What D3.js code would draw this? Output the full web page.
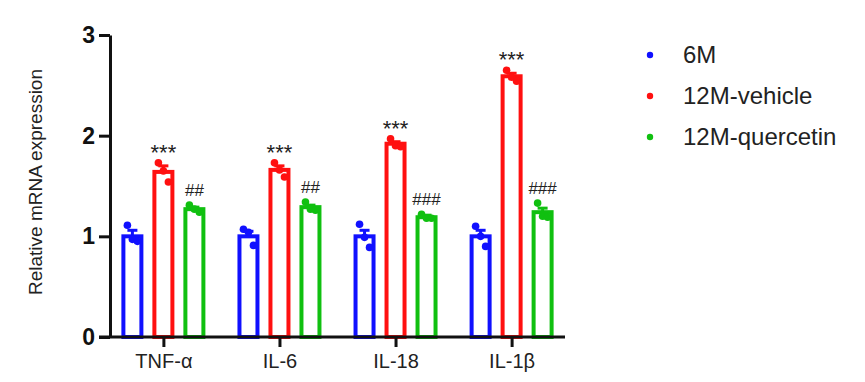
<!DOCTYPE html>
<html lang="en">
<head>
<meta charset="utf-8">
<title>Relative mRNA expression</title>
<script src="https://cdn.jsdelivr.net/npm/d3@7"></script>
<style>
body { margin: 0; background: #fff; }
svg { display: block; font-family: Arial, "Liberation Sans", sans-serif; }
.y-axis text { font-size: 23px; font-weight: bold; fill: #111; }
.x-axis text { font-size: 20px; fill: #222; }
.axis path, .axis line { stroke: #111; stroke-width: 3px; }
.mark { fill: #222; text-anchor: middle; }
.legend text { font-size: 24px; fill: #222; }
</style>
</head>
<body>
<div id="chart"></div>
<script>
// data
var genes = ["TNF-\u03b1", "IL-6", "IL-18", "IL-1\u03b2"];
var groups = ["6M", "12M-vehicle", "12M-quercetin"];
var colors = ["#1010ff", "#ff1010", "#10c010"];

// bar means per group (one value per gene)
var means6M = [1.00, 1.00, 1.00, 1.00];
var meansVeh = [1.64, 1.66, 1.92, 2.59];
var meansQue = [1.27, 1.29, 1.19, 1.24];

// upper error bar (mean + SEM)
var err6M = [1.06, 1.05, 1.06, 1.06];
var errVeh = [1.70, 1.70, 1.94, 2.62];
var errQue = [1.29, 1.31, 1.21, 1.28];

// individual points
var pts6M = [[1.11, 0.97, 0.95], [1.07, 1.04, 0.91], [1.12, 0.99, 0.89], [1.10, 1.00, 0.90]];
var ptsVeh = [[1.73, 1.65, 1.54], [1.73, 1.66, 1.59], [1.97, 1.90, 1.89], [2.65, 2.58, 2.54]];
var ptsQue = [[1.31, 1.27, 1.24], [1.34, 1.27, 1.26], [1.22, 1.18, 1.18], [1.33, 1.20, 1.19]];

var starsVeh = ["***", "***", "***", "***"];
var hashQue = ["##", "##", "###", "###"];

var yTicks = [0, 1, 2, 3];

var width = 865, height = 382;
var svg = d3.select("#chart").append("svg")
	.attr("width", width)
	.attr("height", height);

var x = d3.scalePoint().domain(genes).range([110, 565]).padding(0.46);
var y = d3.scaleLinear().domain([0, 3]).range([337, 35]);
var offset = d3.scalePoint().domain(groups).range([-31, 31]);
var barW = 18;

var series = [
	{ name: groups[0], means: means6M, err: err6M, pts: pts6M },
	{ name: groups[1], means: meansVeh, err: errVeh, pts: ptsVeh },
	{ name: groups[2], means: meansQue, err: errQue, pts: ptsQue }
];

series.forEach(function(s, si) {
	var col = colors[si];
	var g = svg.append("g").attr("class", "series");
	genes.forEach(function(gene, gi) {
		var cx = x(gene) + offset(s.name);
		// error bar (upper only)
		g.append("line")
			.attr("x1", cx).attr("x2", cx)
			.attr("y1", y(s.means[gi])).attr("y2", y(s.err[gi]))
			.attr("stroke", col).attr("stroke-width", 3);
		g.append("line")
			.attr("x1", cx - 5).attr("x2", cx + 5)
			.attr("y1", y(s.err[gi])).attr("y2", y(s.err[gi]))
			.attr("stroke", col).attr("stroke-width", 3);
		g.append("rect")
			.attr("x", cx - barW / 2)
			.attr("y", y(s.means[gi]))
			.attr("width", barW)
			.attr("height", y(0) - y(s.means[gi]))
			.attr("fill", "none")
			.attr("stroke", col)
			.attr("stroke-width", 4);
		s.pts[gi].forEach(function(v, k) {
			g.append("circle")
				.attr("cx", cx + (k - 1) * 5)
				.attr("cy", y(v))
				.attr("r", 3.8)
				.attr("fill", col);
		});
	});
});

// significance marks
genes.forEach(function(gene, gi) {
	var top = d3.max(ptsVeh[gi].concat([errVeh[gi]]));
	svg.append("text").attr("class", "mark")
		.attr("x", x(gene) + offset(groups[1]))
		.attr("y", y(top) - 3)
		.style("font-size", "22px")
		.text(starsVeh[gi]);
	var topQ = d3.max(ptsQue[gi].concat([errQue[gi]]));
	svg.append("text").attr("class", "mark")
		.attr("x", x(gene) + offset(groups[2]))
		.attr("y", y(topQ) - 9)
		.style("font-size", "17px")
		.text(hashQue[gi]);
});

// axes
svg.append("g").attr("class", "axis y-axis")
	.attr("transform", "translate(110,0)")
	.call(d3.axisLeft(y).tickValues(yTicks).tickFormat(d3.format("d")).tickSize(11).tickSizeOuter(0).tickPadding(4));

svg.append("g").attr("class", "axis x-axis")
	.attr("transform", "translate(0," + y(0) + ")")
	.call(d3.axisBottom(x).tickSize(10).tickSizeOuter(0).tickPadding(7));

svg.select(".x-axis .domain").attr("d", "M99,0H565");

svg.append("text")
	.attr("transform", "translate(42,182) rotate(-90)")
	.attr("text-anchor", "middle")
	.style("font-size", "19px")
	.style("fill", "#222")
	.text("Relative mRNA expression");

// legend
var legend = svg.append("g").attr("class", "legend");
groups.forEach(function(name, i) {
	var ly = 55 + i * 41;
	legend.append("circle").attr("cx", 650).attr("cy", ly).attr("r", 3.2).attr("fill", colors[i]);
	legend.append("text").attr("x", 683).attr("y", ly).attr("dy", "0.35em").text(name);
});
</script>
</body>
</html>
